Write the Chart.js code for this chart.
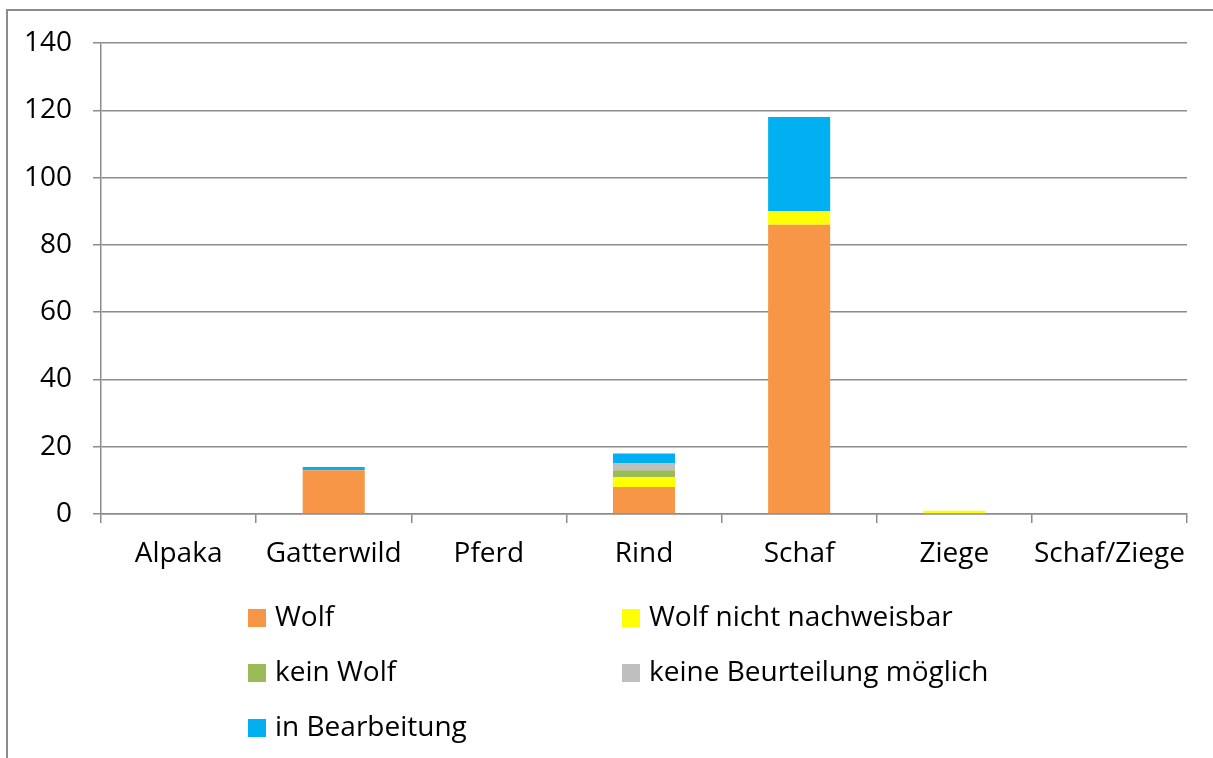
<!DOCTYPE html>
<html>
<head>
<meta charset="utf-8">
<script src="https://cdn.jsdelivr.net/npm/chart.js@4"></script>
<style>
  html, body { margin: 0; padding: 0; background: #fff; overflow: hidden; }
  #wrap { position: relative; width: 1213px; height: 758px; }
  #frame { position: absolute; left: 6px; top: 9px; width: 1400px; height: 900px;
           border: 2px solid #8c8c8c; box-sizing: border-box; }
  #chartBox { position: absolute; left: 0; top: 0; width: 1213px; height: 758px; }
  .leg { position: absolute; font-family: "Open Sans", sans-serif; font-size: 28px;
         color: #000; white-space: nowrap; line-height: 30px; }
  .leg i { position: absolute; left: 0; top: 6px; width: 18px; height: 18px; }
  .leg span { position: absolute; left: 27px; top: -3px; }
</style>
</head>
<body>
<div id="wrap">
  <div id="frame"></div>
  <div id="chartBox"><canvas id="wolfChart"></canvas></div>
  <div id="legend"></div>
</div>
<script>
/* ==========================================================
   DATA
========================================================== */
const categories = ["Alpaka", "Gatterwild", "Pferd", "Rind", "Schaf", "Ziege", "Schaf/Ziege"];

const wolf          = [0, 13, 0, 8, 86, 0, 0];
const wolfNicht     = [0,  0, 0, 3,  4, 1, 0];
const keinWolf      = [0,  0, 0, 2,  0, 0, 0];
const keineBeurt    = [0,  0, 0, 2,  0, 0, 0];
const inBearbeitung = [0,  1, 0, 3, 28, 0, 0];

const seriesNames  = ["Wolf", "Wolf nicht nachweisbar", "kein Wolf", "keine Beurteilung möglich", "in Bearbeitung"];
const seriesColors = ["#F79646", "#FFFF00", "#9BBB59", "#BFBFBF", "#00B0F0"];
const seriesValues = [wolf, wolfNicht, keinWolf, keineBeurt, inBearbeitung];

const yTicks = [0, 20, 40, 60, 80, 100, 120, 140];

/* ==========================================================
   CHART
========================================================== */
const FONT = { family: "'Open Sans', sans-serif", size: 28 };
const GRID = "#8c8c8c";

const ctx = document.getElementById("wolfChart").getContext("2d");

new Chart(ctx, {
    type: "bar",
    data: {
        labels: categories,
        datasets: seriesNames.map((name, i) => ({
            label: name,
            data: seriesValues[i],
            backgroundColor: seriesColors[i],
            borderWidth: 0,
            categoryPercentage: 1.0,
            barPercentage: 0.4
        }))
    },
    options: {
        responsive: true,
        maintainAspectRatio: false,
        animation: false,
        layout: { padding: { left: 0, top: 43, right: 26, bottom: 184 } },
        plugins: {
            legend: { display: false },
            tooltip: { enabled: false }
        },
        scales: {
            x: {
                stacked: true,
                grid: {
                    offset: true,
                    drawOnChartArea: false,
                    drawTicks: true,
                    tickLength: 9,
                    color: GRID,
                    lineWidth: 1.5
                },
                border: { display: true, color: GRID, width: 1.5 },
                ticks: { color: "#000", font: FONT, padding: 14, maxRotation: 0, autoSkip: false },
                afterFit: (scale) => { scale.height = 60; }
            },
            y: {
                stacked: true,
                min: yTicks[0],
                max: yTicks[yTicks.length - 1],
                afterBuildTicks: (scale) => { scale.ticks = yTicks.map(v => ({ value: v })); },
                grid: { color: GRID, lineWidth: 1.5, tickLength: 8 },
                border: { display: true, color: GRID, width: 1.5 },
                ticks: { color: "#000", font: FONT, padding: 21 },
                afterFit: (scale) => { scale.width = 101; }
            }
        }
    }
});

/* ==========================================================
   LEGEND (two columns, like the original)
========================================================== */
const legend = document.getElementById("legend");
const colX = [248, 622];
const rowY = [603, 658, 713];
seriesNames.forEach((name, i) => {
    const item = document.createElement("div");
    item.className = "leg";
    item.style.left = colX[i % 2] + "px";
    item.style.top = rowY[Math.floor(i / 2)] + "px";
    item.innerHTML = '<i style="background:' + seriesColors[i] + '"></i><span>' + name + '</span>';
    legend.appendChild(item);
});
</script>
</body>
</html>
